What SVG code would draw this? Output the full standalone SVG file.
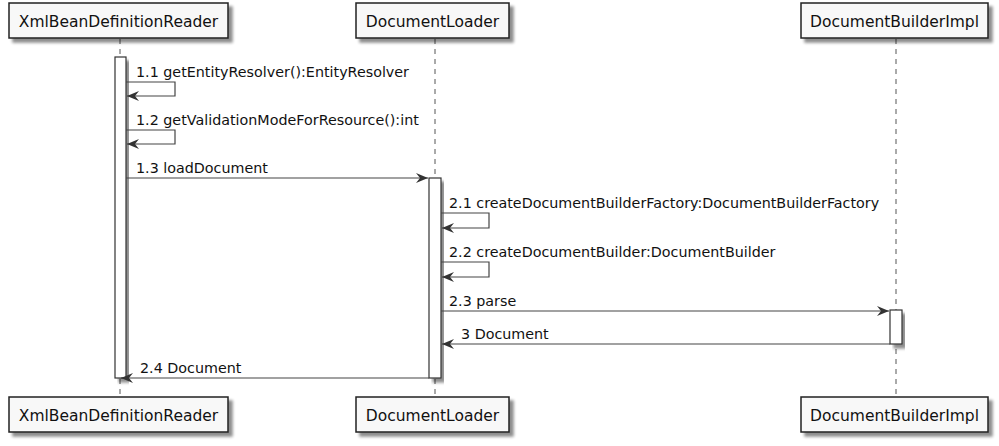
<svg xmlns="http://www.w3.org/2000/svg" width="999" height="446" viewBox="0 0 999 446">
<defs>
<filter id="sh" x="-10%" y="-20%" width="130%" height="160%">
<feGaussianBlur in="SourceAlpha" stdDeviation="1.8"/>
<feOffset dx="4" dy="4" result="b"/>
<feComponentTransfer><feFuncA type="linear" slope="0.45"/></feComponentTransfer>
<feMerge><feMergeNode/><feMergeNode in="SourceGraphic"/></feMerge>
</filter>
<marker id="ah" viewBox="0 0 13 10" refX="12" refY="5" markerWidth="13" markerHeight="10" markerUnits="userSpaceOnUse" orient="auto">
<polygon points="0,0 12,5 0,10 4,5" fill="#333"/>
</marker>
</defs>
<style>
.box{fill:#f8f8f8;stroke:#222;stroke-width:1.5}
.act{fill:#ffffff;stroke:#333;stroke-width:1.2}
.life{stroke:#555;stroke-width:1;stroke-dasharray:5,5;fill:none}
.msg{stroke:#444;stroke-width:1.2;fill:none;marker-end:url(#ah)}
.pt{font-family:"DejaVu Sans",sans-serif;font-size:15.5px;fill:#111;text-anchor:middle}
.ml{font-family:"DejaVu Sans",sans-serif;font-size:14.3px;fill:#111}
</style>
<rect width="999" height="446" fill="#ffffff"/>
<g id="lifelines">
<line class="life" x1="120" y1="39" x2="120" y2="397"/>
<line class="life" x1="435" y1="39" x2="435" y2="397"/>
<line class="life" x1="896" y1="39" x2="896" y2="397"/>
</g>
<g id="XmlBeanDefinitionReader">
<rect class="box" x="9" y="3" width="219" height="35" filter="url(#sh)"/>
<text class="pt" x="118.5" y="26.5">XmlBeanDefinitionReader</text>
<rect class="box" x="9" y="397" width="219" height="35" filter="url(#sh)"/>
<text class="pt" x="118.5" y="420.5">XmlBeanDefinitionReader</text>
</g>
<g id="DocumentLoader">
<rect class="box" x="356" y="3" width="153" height="35" filter="url(#sh)"/>
<text class="pt" x="432.5" y="26.5">DocumentLoader</text>
<rect class="box" x="356" y="397" width="153" height="35" filter="url(#sh)"/>
<text class="pt" x="432.5" y="420.5">DocumentLoader</text>
</g>
<g id="DocumentBuilderImpl">
<rect class="box" x="801" y="3" width="187" height="35" filter="url(#sh)"/>
<text class="pt" x="894.5" y="26.5">DocumentBuilderImpl</text>
<rect class="box" x="801" y="397" width="187" height="35" filter="url(#sh)"/>
<text class="pt" x="894.5" y="420.5">DocumentBuilderImpl</text>
</g>
<g id="activations">
<rect class="act" x="115" y="57" width="11" height="321" filter="url(#sh)"/>
<rect class="act" x="429" y="178" width="12" height="200" filter="url(#sh)"/>
<rect class="act" x="890" y="310" width="12" height="34" filter="url(#sh)"/>
</g>
<g id="connectors">
<polyline class="msg" points="126,82 175,82 175,96 127,96"/>
<text class="ml" x="136" y="76.5">1.1 getEntityResolver():EntityResolver</text>
<polyline class="msg" points="126,130 175,130 175,144 127,144"/>
<text class="ml" x="136" y="124.5">1.2 getValidationModeForResource():int</text>
<line class="msg" x1="126" y1="178" x2="428" y2="178"/>
<text class="ml" x="136" y="173">1.3 loadDocument</text>
<polyline class="msg" points="441,213 489,213 489,228 442,228"/>
<text class="ml" x="449" y="208">2.1 createDocumentBuilderFactory:DocumentBuilderFactory</text>
<polyline class="msg" points="441,262 489,262 489,277 442,277"/>
<text class="ml" x="449" y="257">2.2 createDocumentBuilder:DocumentBuilder</text>
<line class="msg" x1="441" y1="311" x2="889" y2="311"/>
<text class="ml" x="449" y="305.5">2.3 parse</text>
<line class="msg" x1="890" y1="344" x2="442" y2="344"/>
<text class="ml" x="461" y="339">3 Document</text>
<line class="msg" x1="429" y1="378" x2="121" y2="378"/>
<text class="ml" x="140" y="373">2.4 Document</text>
</g>
</svg>
